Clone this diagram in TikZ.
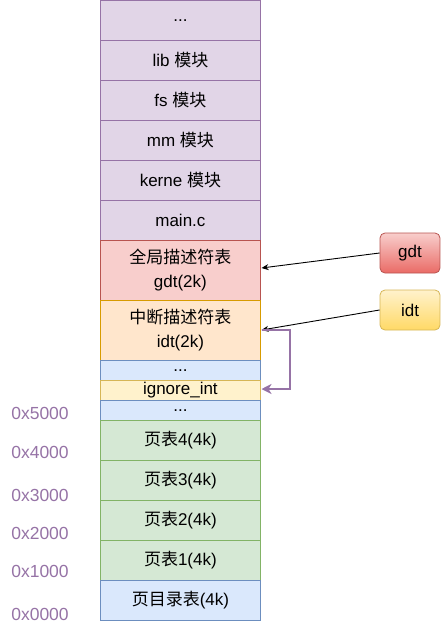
\documentclass[tikz,border=0pt]{standalone}
\usepackage{fontspec}
\setmainfont{Liberation Sans}
\newfontfamily\cjk{Noto Sans CJK SC}
\usetikzlibrary{arrows.meta}
\usetikzlibrary{positioning}
\definecolor{purfill}{HTML}{E1D5E7}
\definecolor{purline}{HTML}{9673A6}
\definecolor{redfill}{HTML}{F8CECC}
\definecolor{redline}{HTML}{B85450}
\definecolor{orafill}{HTML}{FFE6CC}
\definecolor{oraline}{HTML}{D79B00}
\definecolor{blufill}{HTML}{DAE8FC}
\definecolor{bluline}{HTML}{6C8EBF}
\definecolor{yelfill}{HTML}{FFF2CC}
\definecolor{yelline}{HTML}{D6B656}
\definecolor{grefill}{HTML}{D5E8D4}
\definecolor{greline}{HTML}{82B366}
\definecolor{redgrad}{HTML}{EA6B66}
\definecolor{yelgrad}{HTML}{FFD966}
\tikzset{
  cell/.style={draw, line width=0.8pt, minimum width=160pt, inner sep=0pt, align=center,
    font=\fontsize{17}{24}\selectfont, anchor=north west},
  mod/.style={cell, fill=purfill, draw=purline, minimum height=40pt},
  pgtab/.style={cell, fill=grefill, draw=greline, minimum height=40pt},
  tag/.style={draw, rounded corners=5pt, line width=0.8pt, minimum width=60pt, minimum height=40pt,
    font=\fontsize{17}{20}\selectfont},
  addr/.style={text=purline, font=\fontsize{17.5}{20}\selectfont}
}
\begin{document}
\begin{tikzpicture}[x=1pt, y=-1pt]
  \useasboundingbox (0,0) rectangle (441,632);
  % kernel modules
  \node[mod] (top) at (100,0) {...};
  \node[mod] (lib) at (100,40) {lib {\cjk 模块}};
  \node[mod] (fs) at (100,80) {fs {\cjk 模块}};
  \node[mod] (mm) at (100,120) {mm {\cjk 模块}};
  \node[mod] (kerne) at (100,160) {kerne {\cjk 模块}};
  \node[mod] (mainc) at (100,200) {main.c};
  % descriptor tables
  \node[cell, fill=redfill, draw=redline, minimum height=60pt] (gdtt) at (100,240) {{\cjk 全局描述符表}\\gdt(2k)};
  \node[cell, fill=orafill, draw=oraline, minimum height=60pt] (idtt) at (100,300) {{\cjk 中断描述符表}\\idt(2k)};
  \node[cell, fill=blufill, draw=bluline, minimum height=20pt] (dotsa) at (100,360) {...};
  \node[cell, fill=yelfill, draw=yelline, minimum height=20pt] (ign) at (100,380) {ignore\_int};
  \node[cell, fill=blufill, draw=bluline, minimum height=20pt] (dotsb) at (100,400) {...};
  % page tables
  \node[pgtab] (pt4) at (100,420) {{\cjk 页表}4(4k)};
  \node[pgtab] (pt3) at (100,460) {{\cjk 页表}3(4k)};
  \node[pgtab] (pt2) at (100,500) {{\cjk 页表}2(4k)};
  \node[pgtab] (pt1) at (100,540) {{\cjk 页表}1(4k)};
  \node[cell, fill=blufill, draw=bluline, minimum height=40pt] (pdir) at (100,580) {{\cjk 页目录表}(4k)};
  % addresses
  \foreach \a/\y in {5/413, 4/452, 3/495, 2/533, 1/571, 0/614}
    \node[addr] (addr\a) at (40,\y) {0x\a000};
  % register boxes
  \node[tag, draw=redline, top color=redfill, bottom color=redgrad] (gdt) at (410,253) {gdt};
  \node[tag, draw=yelline, top color=yelfill, bottom color=yelgrad] (idt) at (410,310) {idt};
  \coordinate (gdtin) at (261.5,268);
  \coordinate (idtin) at (261.5,330);
  \coordinate (ignin) at (261.5,389);
  \draw[-{Stealth[length=7pt,width=6pt]}, line width=0.9pt] (gdt.west) -- (gdtin);
  \draw[-{Stealth[length=7pt,width=6pt]}, line width=0.9pt] (idt.west) -- (idtin);
  \draw[-{Stealth[length=10pt,width=10pt,inset=3pt,fill=purline]}, line width=2pt, draw=purline] (idtin) -- (290,330) -- (290,389) -- (ignin);
\end{tikzpicture}
\end{document}
